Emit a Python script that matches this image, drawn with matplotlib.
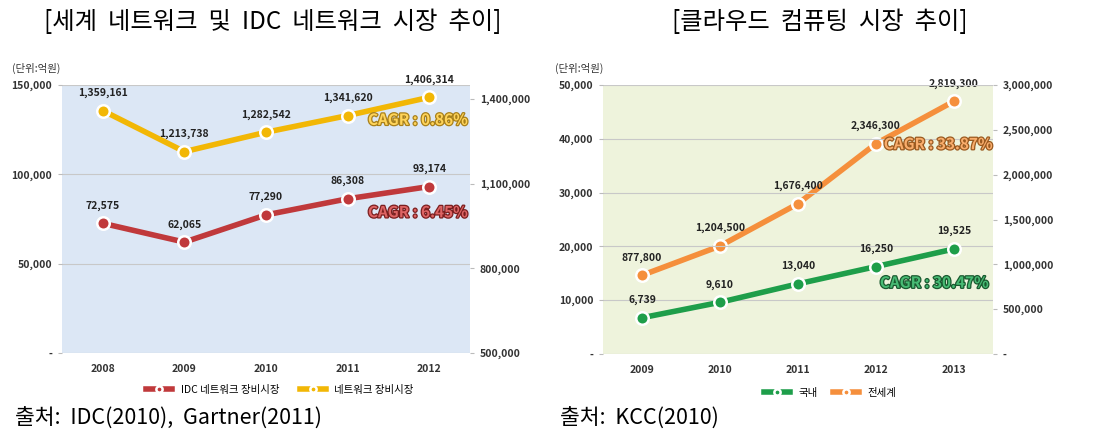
import matplotlib
matplotlib.use('Agg')
import matplotlib.pyplot as plt
import matplotlib.patheffects as pe
from matplotlib.ticker import FuncFormatter

plt.rcParams['font.family'] = ['Noto Sans CJK KR', 'DejaVu Sans']

# left chart data
years_a = ['2008', '2009', '2010', '2011', '2012']
idc_vals = [72575, 62065, 77290, 86308, 93174]
net_vals = [1359161, 1213738, 1282542, 1341620, 1406314]

# right chart data
years_b = ['2009', '2010', '2011', '2012', '2013']
kr_vals = [6739, 9610, 13040, 16250, 19525]
world_vals = [877800, 1204500, 1676400, 2346300, 2819300]


def fmt(v, pos=None):
    return '-' if v == 0 else f'{int(v):,}'


def style_axes(ax, ax2, bg):
    # back axis carries the fill, front axis carries the lines
    ax.patch.set_visible(False)
    ax2.patch.set_visible(True)
    ax2.set_facecolor(bg)
    for a in (ax, ax2):
        for s in a.spines.values():
            s.set_visible(False)
        a.tick_params(length=3, color='#bbbbbb', labelsize=7.5, pad=4)
        for lab in a.get_yticklabels() + a.get_xticklabels():
            lab.set_fontweight('bold')
            lab.set_color('#333333')
    ax.grid(axis='y', color='#c8c8c8', lw=0.8)
    ax.set_axisbelow(True)
    ax.tick_params(axis='x', length=0, pad=8)


def series(ax, x, vals, color, offs):
    line, = ax.plot(x, vals, color=color, lw=4, marker='o', ms=9,
                    mfc=color, mec='white', mew=1.8, zorder=3)
    for xi, v, o in zip(x, vals, offs):
        ax.annotate(f'{v:,}', (xi, v), xytext=o, textcoords='offset points',
                    ha='center', va='bottom', fontsize=7.5, fontweight='bold',
                    color='#222222')
    return line


def cagr(ax, x, y, text, color, edge):
    ax.text(x, y, text, transform=ax.transAxes, fontsize=11, fontweight='bold',
            color=color, ha='left', va='center', zorder=5,
            path_effects=[pe.withStroke(linewidth=1.8, foreground=edge)])


fig = plt.figure(figsize=(11.16, 4.42), dpi=100)
W, H = 1116, 442

# ---------------- left chart ----------------
ax = fig.add_axes([62 / W, (H - 353) / H, 408 / W, 268 / H])
ax2 = ax.twinx()
x = list(range(len(years_a)))
ax.set_xlim(-0.5, 4.5)
ax.set_ylim(0, 150000)
ax.set_yticks([0, 50000, 100000, 150000])
ax2.set_ylim(500000, 1450000)
ax2.set_yticks([500000, 800000, 1100000, 1400000])
ax.yaxis.set_major_formatter(FuncFormatter(fmt))
ax2.yaxis.set_major_formatter(FuncFormatter(fmt))
ax.set_xticks(x)
ax.set_xticklabels(years_a)
l1 = series(ax, x, idc_vals, '#c0393b', [(0, 9)] * 5)
l2 = series(ax2, x, net_vals, '#f2b705', [(0, 9)] * 5)
ax.set_zorder(ax2.get_zorder() + 1)
style_axes(ax, ax2, '#dce7f5')
cagr(ax, 0.75, 0.87, 'CAGR : 0.86%', '#ffd45a', '#a8801a')
cagr(ax, 0.75, 0.525, 'CAGR : 6.45%', '#de6464', '#7a1f1f')
fig.legend([l1, l2], ['IDC 네트워크 장비시장', '네트워크 장비시장'],
           loc='center', bbox_to_anchor=(280 / W, 1 - 390 / H), ncol=2,
           frameon=False, fontsize=7.5, handlelength=2.5, columnspacing=2,
           markerscale=0.5)

fig.text(273 / W, 1 - 22 / H, '[세계  네트워크  및  IDC  네트워크  시장  추이]',
         ha='center', va='center', fontsize=17.5, fontweight='light')
fig.text(12 / W, 1 - 68 / H, '(단위:억원)', ha='left', va='center', fontsize=7.5,
         color='#333333')
fig.text(15 / W, 1 - 419 / H, '출처:  IDC(2010),  Gartner(2011)', ha='left',
         va='center', fontsize=15.5, fontweight='light')

# ---------------- right chart ----------------
bx = fig.add_axes([603 / W, (H - 354) / H, 390 / W, 269 / H])
bx2 = bx.twinx()
x = list(range(len(years_b)))
bx.set_xlim(-0.5, 4.5)
bx.set_ylim(0, 50000)
bx.set_yticks(range(0, 50001, 10000))
bx2.set_ylim(0, 3000000)
bx2.set_yticks(range(0, 3000001, 500000))
bx.yaxis.set_major_formatter(FuncFormatter(fmt))
bx2.yaxis.set_major_formatter(FuncFormatter(fmt))
bx.set_xticks(x)
bx.set_xticklabels(years_b)
m1 = series(bx, x, kr_vals, '#1e9e4a', [(0, 9)] * 5)
m2 = series(bx2, x, world_vals, '#f58f3c', [(0, 9)] * 5)
bx.set_zorder(bx2.get_zorder() + 1)
style_axes(bx, bx2, '#eef3dc')
cagr(bx, 0.72, 0.78, 'CAGR : 33.87%', '#f9ad6c', '#9a5a20')
cagr(bx, 0.71, 0.265, 'CAGR : 30.47%', '#48bb74', '#1a5a30')
fig.legend([m1, m2], ['국내', '전세계'],
           loc='center', bbox_to_anchor=(830 / W, 1 - 393 / H), ncol=2,
           frameon=False, fontsize=7.5, handlelength=2.5, columnspacing=1.5,
           markerscale=0.5)

fig.text(820 / W, 1 - 22 / H, '[클라우드  컴퓨팅  시장  추이]',
         ha='center', va='center', fontsize=17.5, fontweight='light')
fig.text(555 / W, 1 - 68 / H, '(단위:억원)', ha='left', va='center', fontsize=7.5,
         color='#333333')
fig.text(560 / W, 1 - 419 / H, '출처:  KCC(2010)', ha='left', va='center',
         fontsize=15.5, fontweight='light')

fig.savefig('out.png', dpi=100)
